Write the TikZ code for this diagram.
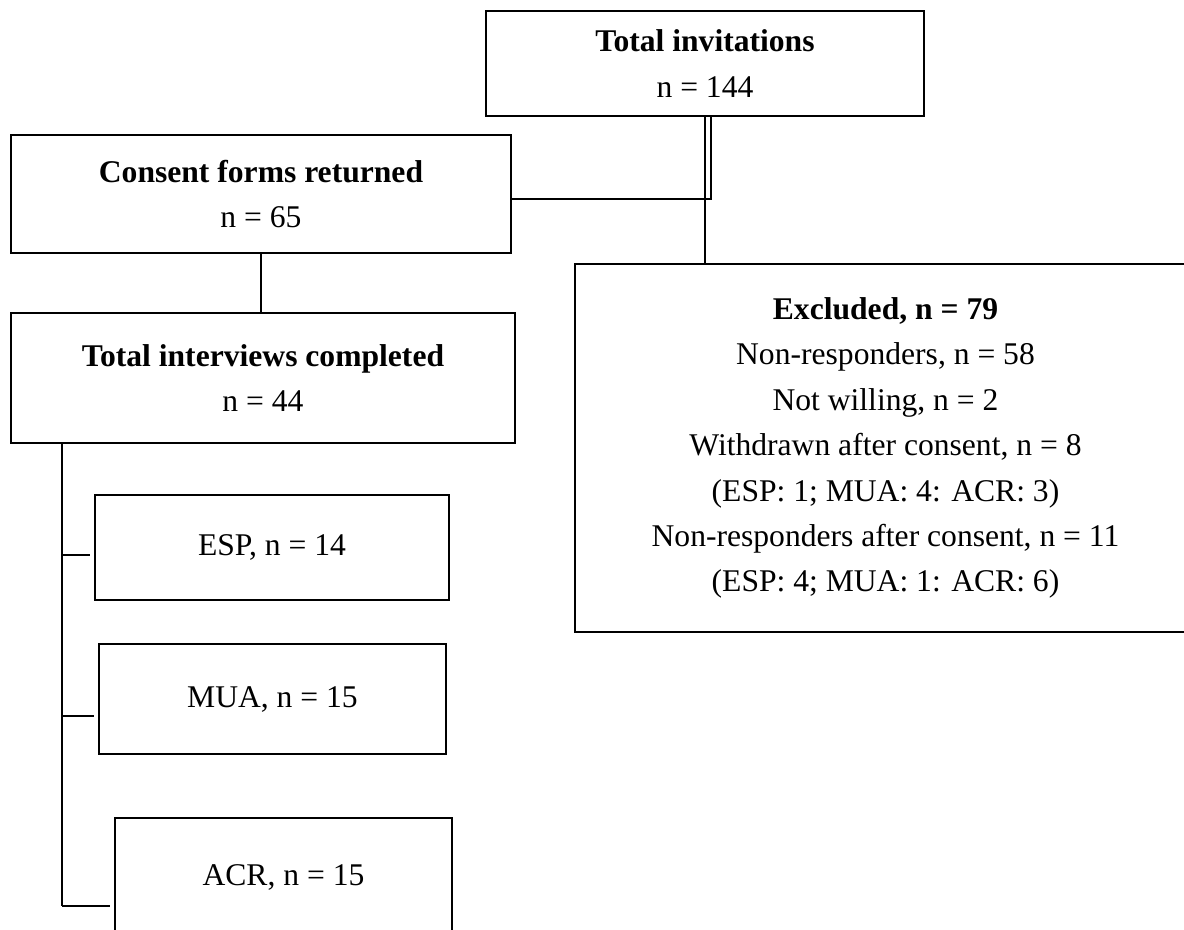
\documentclass[tikz,border=0pt]{standalone}
\usepackage{fontspec}
\setmainfont{Liberation Serif}
\usepackage{tikz}
\usetikzlibrary{positioning}

\begin{document}
\begin{tikzpicture}[x=0.5pt, y=-0.5pt,
            box/.style={draw, rectangle, line width=1.3pt, inner sep=0pt, align=center, font=\fontsize{15.8}{22.7}\selectfont},
            link/.style={line width=1.1pt}]

            \useasboundingbox (0,0) rectangle (1184,930);

            \node[box, minimum width=219pt, minimum height=52.5pt] (invit) at (705,63.5) {\textbf{Total invitations}\\n = 144};
            \node[box, minimum width=250pt, minimum height=59pt] (consent) at (261,194) {\textbf{Consent forms returned}\\n = 65};
            \node[box, minimum width=252pt, minimum height=65pt] (interv) at (263,378) {\textbf{Total interviews completed}\\n = 44};
            \node[box, minimum width=310.5pt, minimum height=184pt] (excl) at (885.5,448) {\textbf{Excluded, n = 79}\\Non-responders, n = 58\\Not willing, n = 2\\Withdrawn after consent, n = 8\\(ESP: 1; MUA: 4: ACR: 3)\\Non-responders after consent, n = 11\\(ESP: 4; MUA: 1: ACR: 6)};
            \node[box, minimum width=177pt, minimum height=52.5pt] (esp) at (272,547.5) {ESP, n = 14};
            \node[box, minimum width=173.5pt, minimum height=55pt] (mua) at (272.5,699) {MUA, n = 15};
            \node[box, minimum width=168.5pt, minimum height=59pt] (acr) at (283.5,877) {ACR, n = 15};

            \coordinate (t1) at (62,555);
            \coordinate (t2) at (62,716);
            \coordinate (t3) at (62,906);

            \draw[link] (invit.south) -- (invit.south |- excl.north);
            \draw[link] ([xshift=3pt]invit.south) |- ([yshift=-2.5pt]consent.east);
            \draw[link] (consent.south) -- (consent.south |- interv.north);
            \draw[link, line width=1.3pt] (interv.south -| t3) -- (t3);
            \draw[link, shorten >=2pt] (t1) -- (t1 -| esp.west);
            \draw[link, shorten >=2pt] (t2) -- (t2 -| mua.west);
            \draw[link, shorten >=2pt] (t3) -- (t3 -| acr.west);
        \end{tikzpicture}
\end{document}
